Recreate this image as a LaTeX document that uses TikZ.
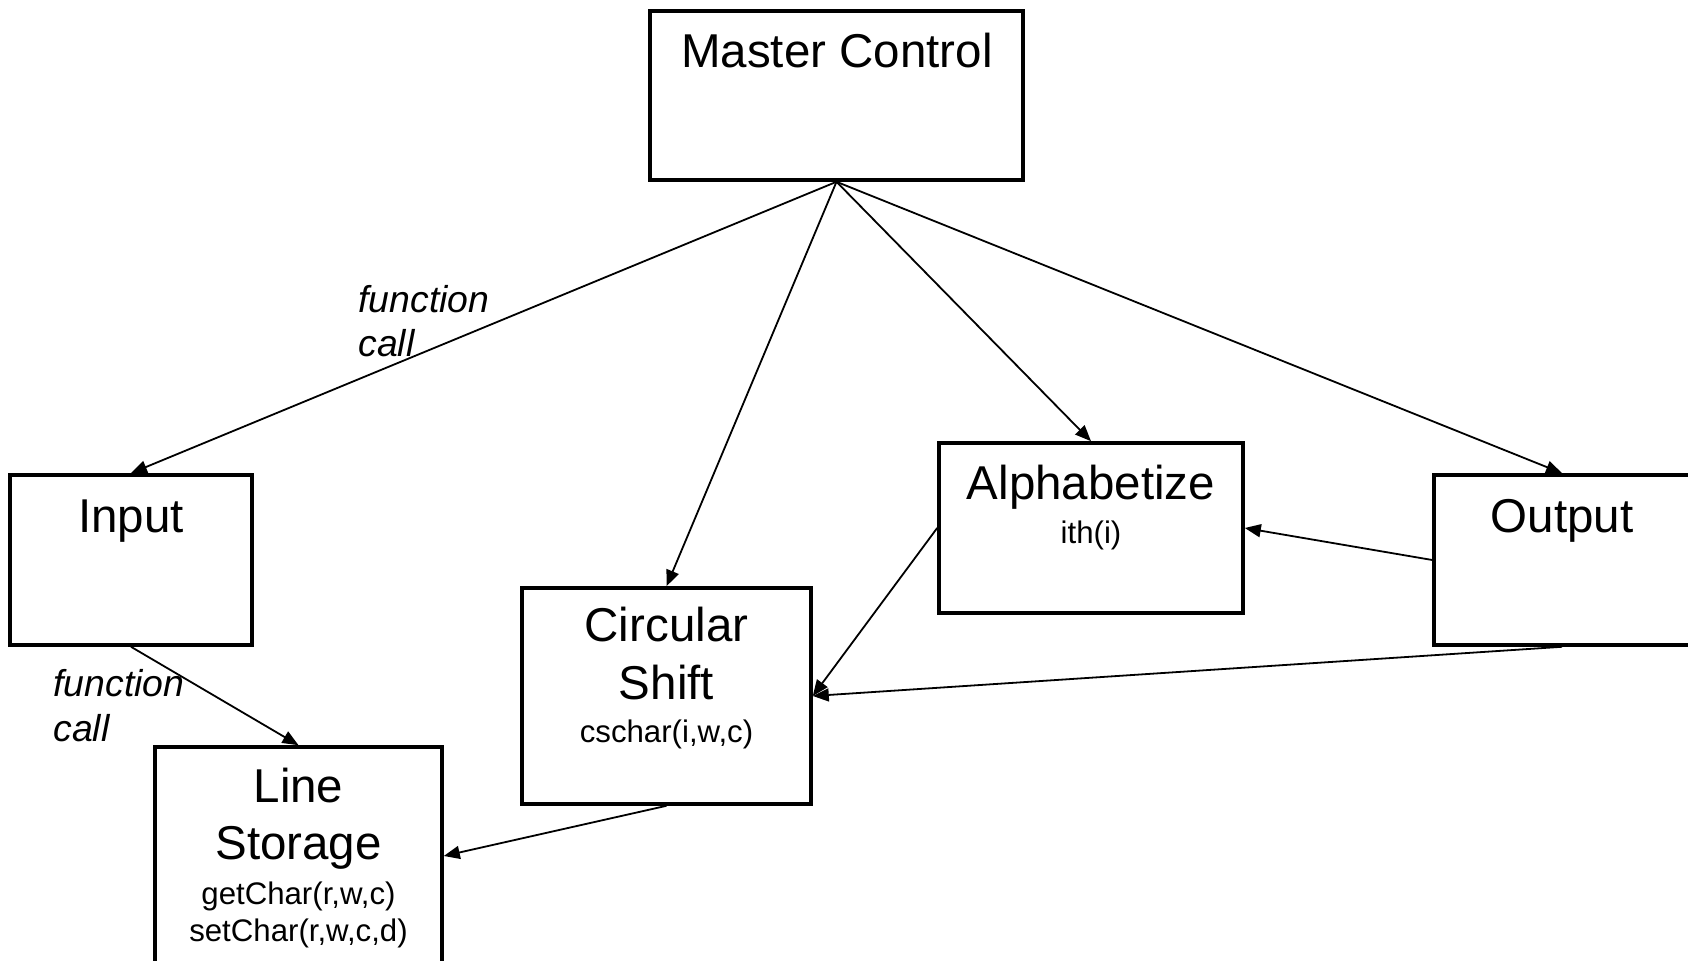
\documentclass[tikz,border=0pt]{standalone}
\usepackage{fontspec}
\setmainfont{Liberation Sans}
\usetikzlibrary{arrows.meta}
\begin{document}
\begin{tikzpicture}[x=0.5pt,y=-0.5pt,
  box/.style={draw, line width=1.8pt, rectangle, inner sep=0pt},
  big/.style={font=\fontsize{23.75}{28}\selectfont, anchor=base, inner sep=0pt},
  small/.style={font=\fontsize{15.6}{18}\selectfont, anchor=base, inner sep=0pt},
  lbl/.style={font=\fontsize{18.7}{22}\selectfont\itshape, anchor=base west, inner sep=0pt},
  conn/.style={line width=0.9pt, -{Triangle[length=8pt,width=6.5pt]}}]
\useasboundingbox (0,0) rectangle (1688,961);
% boxes
\node[box, minimum width=186.5pt, minimum height=84.5pt] (master) at (836.5,95.5) {};
\node[box, minimum width=121pt, minimum height=85pt] (input) at (131,560) {};
\node[box, minimum width=143.5pt, minimum height=109pt] (line) at (298.5,856) {};
\node[box, minimum width=144.5pt, minimum height=108pt] (circ) at (666.5,696) {};
\node[box, minimum width=152pt, minimum height=85pt] (alpha) at (1091,528) {};
\node[box, minimum width=128pt, minimum height=85pt] (output) at (1562,560) {};
% texts
\node[big] (masterT) at (837,68) {Master Control};
\node[big] (inputT) at (131,533) {Input};
\node[big] (lineT1) at (298.5,803) {Line};
\node[big] (lineT2) at (298.5,860) {Storage};
\node[small] (lineT3) at (298.5,905) {getChar(r,w,c)};
\node[small] (lineT4) at (298.5,942) {setChar(r,w,c,d)};
\node[big] (circT1) at (666.5,642) {Circular};
\node[big] (circT2) at (666.5,700) {Shift};
\node[small] (circT3) at (666.5,743) {cschar(i,w,c)};
\node[big] (alphaT1) at (1091,500) {Alphabetize};
\node[small] (alphaT2) at (1091,544) {ith(i)};
\node[big] (outputT) at (1562,533) {Output};
% labels
\node[lbl] (fc1a) at (358,313) {function};
\node[lbl] (fc1b) at (358,357) {call};
\node[lbl] (fc2a) at (53,697) {function};
\node[lbl] (fc2b) at (53,742) {call};
% connectors
\draw[conn] (master.south) -- (input.north);
\draw[conn] (master.south) -- (circ.north);
\draw[conn] (master.south) -- (alpha.north);
\draw[conn] (master.south) -- (output.north);
\draw[conn] (input.south) -- (line.north);
\draw[conn] (circ.south) -- (line.east);
\draw[conn] (alpha.west) -- (circ.east);
\draw[conn] (output.west) -- (alpha.east);
\draw[conn] (output.south) -- (circ.east);
\end{tikzpicture}
\end{document}
